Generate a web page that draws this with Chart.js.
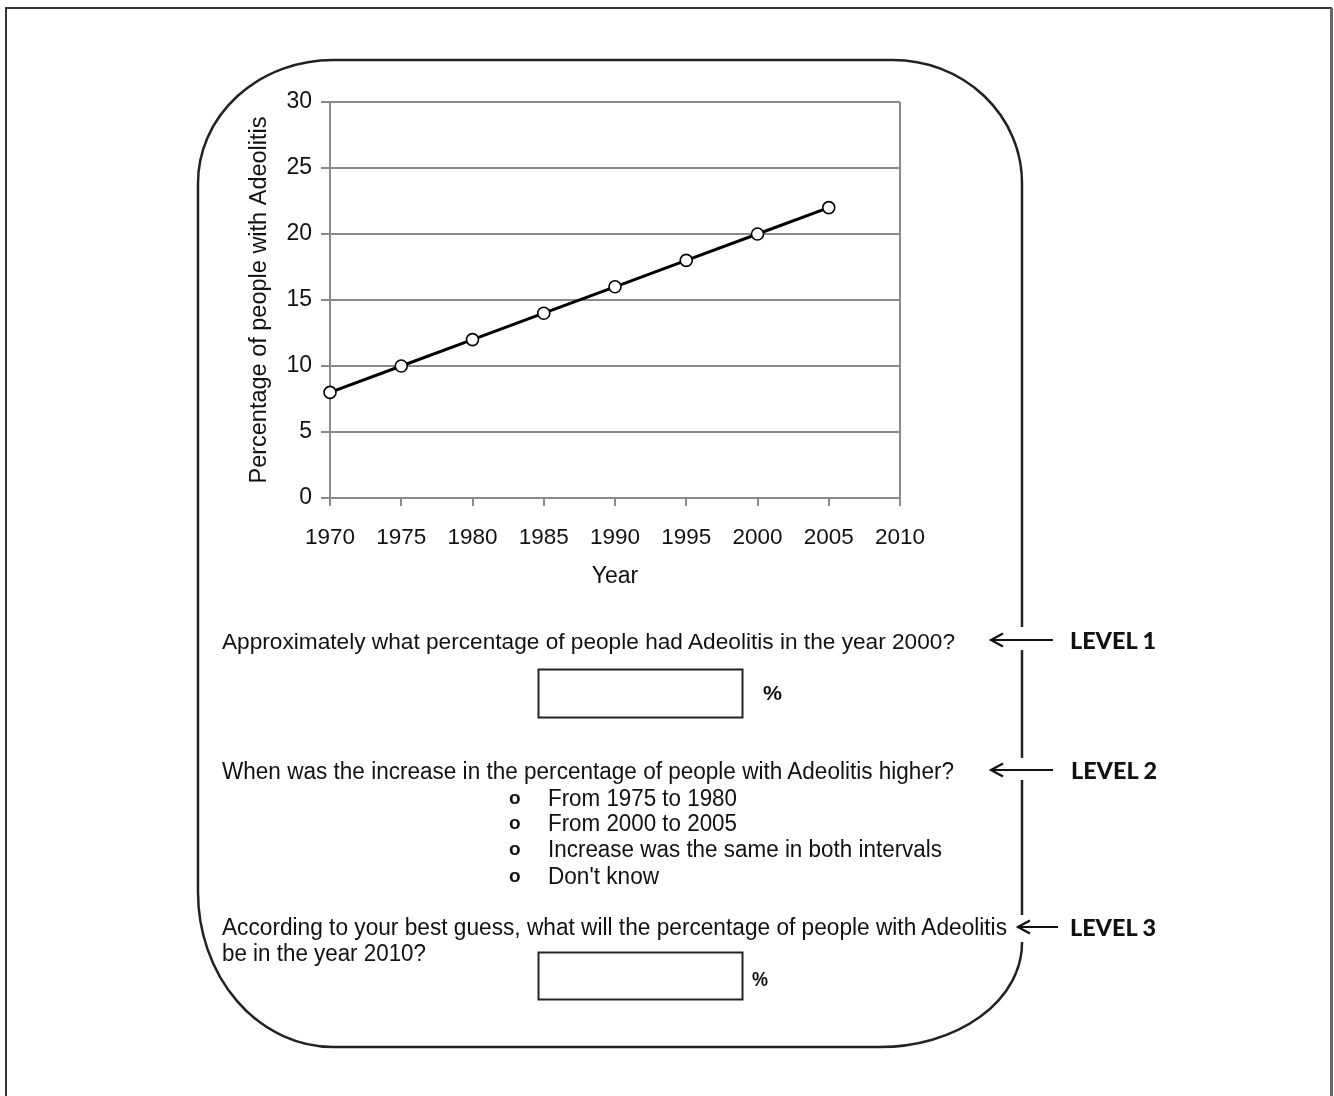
<!DOCTYPE html>
<html>
<head>
<meta charset="utf-8">
<script src="https://cdn.jsdelivr.net/npm/chart.js@4.4.0/dist/chart.umd.min.js"></script>
<style>
  html, body { margin: 0; padding: 0; background: #fff; }
  #wrap { position: relative; width: 1334px; height: 1096px; overflow: hidden; background: #fff; }
  #c { position: absolute; left: 0; top: 0; }
  #ov { position: absolute; left: 0; top: 0; pointer-events: none; }
  .q { font-family: "Liberation Sans", Arial, sans-serif; font-size: 22.5px; fill: #111; }
  .n { font-family: "Liberation Sans", Arial, sans-serif; font-size: 23.5px; fill: #111; }
  .b { font-family: "Liberation Sans", Arial, sans-serif; font-size: 21px; font-weight: bold; fill: #111; }
  .lv { font-family: Lato, "Liberation Sans", sans-serif; font-weight: 900; font-size: 23px; fill: #111; }
</style>
</head>
<body>
<div id="wrap">
  <canvas id="c" width="1334" height="1096"></canvas>
  <svg id="ov" width="1334" height="1096" xmlns="http://www.w3.org/2000/svg">
    <!-- outer frame -->
    <rect x="6" y="8" width="1325" height="1110" fill="none" stroke="#333" stroke-width="2"/>
    <line x1="1331.5" y1="8" x2="1331.5" y2="1096" stroke="#666" stroke-width="3"/>
    <!-- rounded panel -->
    <path d="M 333 60 L 893 60 A 129 123 0 0 1 1022 183 L 1022 943 A 142 104 0 0 1 880 1047 L 333 1047 A 135 155 0 0 1 198 892 L 198 183 A 135 123 0 0 1 333 60 Z"
          fill="none" stroke="#222" stroke-width="2.5"/>
    <!-- gaps on right edge -->
    <rect x="1014" y="627" width="16" height="23" fill="#fff"/>
    <rect x="1014" y="758" width="16" height="22" fill="#fff"/>
    <rect x="1010" y="915" width="20" height="27" fill="#fff"/>

    <!-- Question 1 -->
    <text class="q" x="222" y="649" textLength="733" lengthAdjust="spacingAndGlyphs">Approximately what percentage of people had Adeolitis in the year 2000?</text>
    <rect x="538.5" y="669.5" width="204" height="48" fill="none" stroke="#222" stroke-width="2"/>
    <text class="b" x="763" y="699.5" textLength="19" lengthAdjust="spacingAndGlyphs">%</text>

    <!-- Question 2 -->
    <text class="n" x="222" y="778.5" textLength="732" lengthAdjust="spacingAndGlyphs">When was the increase in the percentage of people with Adeolitis higher?</text>
    <text class="b" x="509" y="804" style="font-size:19px">o</text>
    <text class="n" x="548" y="805.5" textLength="189" lengthAdjust="spacingAndGlyphs">From 1975 to 1980</text>
    <text class="b" x="509" y="829" style="font-size:19px">o</text>
    <text class="n" x="548" y="830.5" textLength="189" lengthAdjust="spacingAndGlyphs">From 2000 to 2005</text>
    <text class="b" x="509" y="855" style="font-size:19px">o</text>
    <text class="n" x="548" y="856.5" textLength="394" lengthAdjust="spacingAndGlyphs">Increase was the same in both intervals</text>
    <text class="b" x="509" y="882" style="font-size:19px">o</text>
    <text class="n" x="548" y="883.5" textLength="111" lengthAdjust="spacingAndGlyphs">Don't know</text>

    <!-- Question 3 -->
    <text class="n" x="222" y="935" textLength="785" lengthAdjust="spacingAndGlyphs">According to your best guess, what will the percentage of people with Adeolitis</text>
    <text class="n" x="222" y="960.5" textLength="204" lengthAdjust="spacingAndGlyphs">be in the year 2010?</text>
    <rect x="538.5" y="952.5" width="204" height="47" fill="none" stroke="#222" stroke-width="2"/>
    <text class="b" x="752" y="985.5" textLength="16" lengthAdjust="spacingAndGlyphs">%</text>

    <!-- Arrows -->
    <g stroke="#111" stroke-width="2.2" fill="none">
      <line x1="991" y1="640" x2="1053" y2="640"/>
      <polyline points="1003,633.5 991,640 1003,646.5"/>
      <line x1="991" y1="770" x2="1053" y2="770"/>
      <polyline points="1003,763.5 991,770 1003,776.5"/>
      <line x1="1018" y1="927" x2="1058" y2="927"/>
      <polyline points="1030,920.5 1018,927 1030,933.5"/>
    </g>
    <text class="lv" x="1070" y="648.5" textLength="86" lengthAdjust="spacingAndGlyphs">LEVEL 1</text>
    <text class="lv" x="1071" y="778.5" textLength="86" lengthAdjust="spacingAndGlyphs">LEVEL 2</text>
    <text class="lv" x="1070" y="935.5" textLength="86" lengthAdjust="spacingAndGlyphs">LEVEL 3</text>
  </svg>
</div>
<script>
const years = [1970, 1975, 1980, 1985, 1990, 1995, 2000, 2005];
const percentages = [8, 10, 12, 14, 16, 18, 20, 22];
const yTicks = [0, 5, 10, 15, 20, 25, 30];
const xTicks = [1970, 1975, 1980, 1985, 1990, 1995, 2000, 2005, 2010];
const yTitle = 'Percentage of people with Adeolitis';
const xTitle = 'Year';

const gridGray = '#8a8a8a';
const points = years.map((yr, i) => ({ x: yr, y: percentages[i] }));

new Chart(document.getElementById('c'), {
  type: 'line',
  data: {
    datasets: [{
      data: points,
      borderColor: '#000',
      borderWidth: 3,
      tension: 0,
      fill: false,
      pointRadius: 6,
      pointBackgroundColor: '#fff',
      pointBorderColor: '#000',
      pointBorderWidth: 1.6,
      clip: false
    }]
  },
  options: {
    responsive: false,
    animation: false,
    devicePixelRatio: 1,
    layout: { padding: { left: 241, top: 102, right: 434, bottom: 502 } },
    plugins: { legend: { display: false }, tooltip: { enabled: false } },
    scales: {
      x: {
        type: 'linear',
        min: xTicks[0],
        max: xTicks[xTicks.length - 1],
        afterBuildTicks: (s) => { s.ticks = xTicks.map(v => ({ value: v })); },
        afterFit: (s) => { s.height = 96; },
        ticks: {
          color: '#111',
          padding: 18,
          maxRotation: 0,
          autoSkip: false,
          font: { family: 'Liberation Sans, Arial, sans-serif', size: 22.5 },
          callback: (v) => String(v)
        },
        grid: {
          drawOnChartArea: true,
          color: (ctx) => (ctx.tick && ctx.tick.value === xTicks[xTicks.length - 1]) ? gridGray : 'rgba(0,0,0,0)',
          tickColor: gridGray,
          tickLength: 8,
          lineWidth: 2
        },
        border: { display: true, color: gridGray, width: 2 },
        title: {
          display: true,
          text: xTitle,
          color: '#111',
          padding: { top: 4, bottom: 4 },
          font: { family: 'Liberation Sans, Arial, sans-serif', size: 23 }
        }
      },
      y: {
        type: 'linear',
        min: yTicks[0],
        max: yTicks[yTicks.length - 1],
        afterBuildTicks: (s) => { s.ticks = yTicks.map(v => ({ value: v })); },
        afterFit: (s) => { s.width = 89; },
        ticks: {
          color: '#111',
          padding: 9,
          font: { family: 'Liberation Sans, Arial, sans-serif', size: 23 },
          callback: (v) => String(v)
        },
        grid: {
          color: gridGray,
          tickColor: gridGray,
          tickLength: 9,
          lineWidth: 2
        },
        border: { display: true, color: gridGray, width: 2 },
        title: {
          display: true,
          text: yTitle,
          color: '#111',
          padding: { top: 4, bottom: 4 },
          font: { family: 'Liberation Sans, Arial, sans-serif', size: 23.5 }
        }
      }
    }
  }
});
</script>
</body>
</html>
